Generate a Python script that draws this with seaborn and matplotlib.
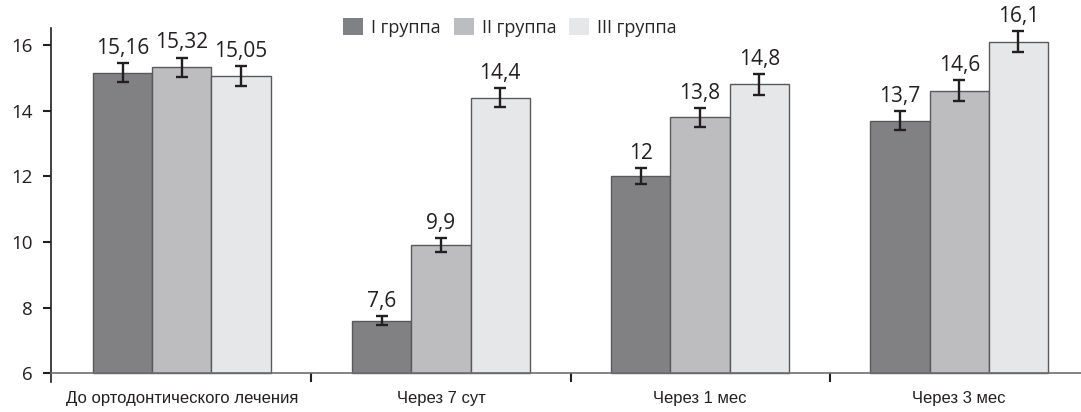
import matplotlib
matplotlib.use("Agg")
import pandas as pd
import matplotlib.pyplot as plt
import seaborn as sns
from matplotlib.patches import Patch
from matplotlib import font_manager

categories = ["До ортодонтического лечения", "Через 7 сут", "Через 1 мес", "Через 3 мес"]
groups = ["I группа", "II группа", "III группа"]
group1_values = [15.16, 7.6, 12.0, 13.7]
group2_values = [15.32, 9.9, 13.8, 14.6]
group3_values = [15.05, 14.4, 14.8, 16.1]
group1_err = [0.30, 0.14, 0.24, 0.30]
group2_err = [0.30, 0.21, 0.29, 0.32]
group3_err = [0.30, 0.30, 0.32, 0.32]
colors = ["#808184", "#bcbdc0", "#e6e7e8"]

values = [group1_values, group2_values, group3_values]
errors = [group1_err, group2_err, group3_err]

rows = []
for g, vals in zip(groups, values):
    for c, v in zip(categories, vals):
        rows.append({"category": c, "group": g, "value": v})
df = pd.DataFrame(rows)

sns.set_style("white")
plt.rcParams["font.family"] = ["Open Sans", "DejaVu Sans"]

# condensed font for category labels if it exists
names = {f.name for f in font_manager.fontManager.ttflist}
narrow = "Liberation Sans Narrow" if "Liberation Sans Narrow" in names else "Liberation Sans"
narrow_size = 13 if narrow == "Liberation Sans Narrow" else 12

baseline = 6

fig = plt.figure(figsize=(10.81, 4.12), dpi=100)
ax = fig.add_axes([51 / 1081, 30 / 412, 1 - 51 / 1081, (382 - 28) / 412])

sns.barplot(data=df, x="category", y="value", hue="group", order=categories,
            hue_order=groups, palette=colors, errorbar=None, width=0.686,
            edgecolor="#58595b", linewidth=1.0, legend=False, ax=ax)

ax.set_ylim(5.73, 16.52)
ax.set_xlim(-0.505, 3.47)

# bars start at the baseline, error bars and value labels on top
for cont, errs in zip(ax.containers, errors):
    for bar, err in zip(cont, errs):
        top = bar.get_height()
        bar.set_y(baseline)
        bar.set_height(top - baseline)
        xc = bar.get_x() + bar.get_width() / 2
        ax.errorbar(xc, top, yerr=err, fmt="none", ecolor="#231f20",
                    elinewidth=1.7, capsize=4, capthick=1.7, zorder=5)
        label = f"{top:g}".replace(".", ",")
        ax.annotate(label, (xc, top + err), xytext=(0, 3), textcoords="offset points",
                    ha="center", va="bottom", fontsize=15, color="#231f20")

ax.spines["top"].set_visible(False)
ax.spines["right"].set_visible(False)
ax.spines["bottom"].set_position(("data", baseline))
ax.spines["bottom"].set_color("#6d6e71")
ax.spines["bottom"].set_linewidth(1.2)
ax.spines["left"].set_color("#231f20")
ax.spines["left"].set_linewidth(1.2)

ax.set_yticks([6, 8, 10, 12, 14, 16])
ax.tick_params(axis="y", length=6, width=1.5, pad=7, labelsize=13.5,
               color="#231f20", labelcolor="#231f20", left=True)
ax.set_xticks(range(len(categories)), categories, fontfamily=[narrow, "DejaVu Sans"],
              fontsize=narrow_size)
ax.set_xticks([0.5, 1.5, 2.5], minor=True)
ax.tick_params(axis="x", which="major", length=0, pad=13, labelcolor="#231f20")
ax.tick_params(axis="x", which="minor", length=6.5, width=1.5, color="#231f20", bottom=True)

ax.set_xlabel("")
ax.set_ylabel("")

handles = [Patch(facecolor=c, edgecolor="none") for c in colors]
ax.legend(handles, groups, loc="upper center", bbox_to_anchor=(510 / 1081, 1 - 18 / 412),
          bbox_transform=fig.transFigure, ncol=3, frameon=False, fontsize=13,
          handlelength=1.1, handleheight=1.1, handletextpad=0.45,
          columnspacing=0.7, borderaxespad=0, borderpad=0)

fig.savefig("out.png", dpi=100)
